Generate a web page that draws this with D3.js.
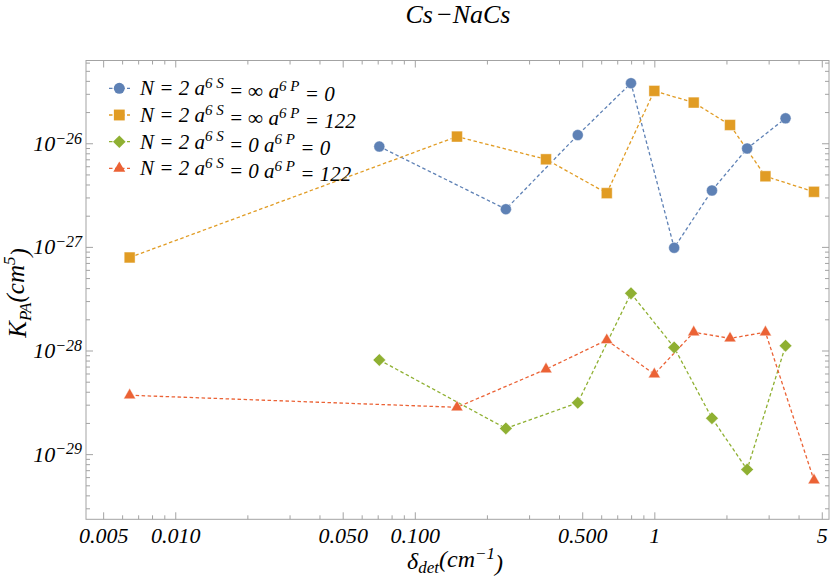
<!DOCTYPE html>
<html>
<head>
<meta charset="utf-8">
<script src="https://cdn.jsdelivr.net/npm/d3@7"></script>
<style>
  body { margin: 0; background: #fff; }
  text { font-family: "Liberation Serif", "DejaVu Serif", serif; font-style: italic; }
</style>
</head>
<body>
<div id="chart"></div>
<script>
// detuning values (cm^-1)
var xA = [0.0711, 0.240, 0.479, 0.799, 1.21, 1.74, 2.44, 3.53];
var xB = [0.00645, 0.150, 0.353, 0.633, 1.0, 1.46, 2.07, 2.91, 4.64];

// K_PA (cm^5)
var infNoP = [9.3e-27, 2.31e-27, 1.2e-26, 3.8e-26, 9.8e-28, 3.5e-27, 8.9e-27, 1.74e-26];
var infP122 = [7.9e-28, 1.16e-26, 7.0e-27, 3.3e-27, 3.2e-26, 2.47e-26, 1.5e-26, 4.8e-27, 3.4e-27];
var zeroNoP = [8.1e-29, 1.77e-29, 3.13e-29, 3.56e-28, 1.07e-28, 2.22e-29, 7.1e-30, 1.11e-28];
var zeroP122 = [3.7e-29, 2.83e-29, 6.6e-29, 1.26e-28, 5.9e-29, 1.5e-28, 1.31e-28, 1.5e-28, 5.6e-30];

var xTicks = [0.005, 0.01, 0.05, 0.1, 0.5, 1, 5];
var xTickLabels = ["0.005", "0.010", "0.050", "0.100", "0.500", "1", "5"];
var yTicks = [1e-26, 1e-27, 1e-28, 1e-29];

var series = [
    { rest: "= \u221E", p: "= 0", x: xA, y: infNoP, color: "#5E81B5", shape: "circle" },
    { rest: "= \u221E", p: "= 122", x: xB, y: infP122, color: "#E19C24", shape: "square" },
    { rest: "= 0", p: "= 0", x: xA, y: zeroNoP, color: "#8FB032", shape: "diamond" },
    { rest: "= 0", p: "= 122", x: xB, y: zeroP122, color: "#EB6235", shape: "triangle" }
];

var w = 830, h = 580;
var padL = 86, padR = 829, padT = 60.5, padB = 519.3;
var frameColor = "#a3a3a3";

var svg = d3.select("#chart").append("svg")
    .attr("width", w)
    .attr("height", h);

var xscale = d3.scaleLog().domain([0.00424, 5.36]).range([padL, padR]);
var yscale = d3.scaleLog().domain([2.35e-30, 6.29e-26]).range([padB, padT]);

// minor tick values
var xMinor = [];
[0.001, 0.01, 0.1, 1].forEach(function (b) {
    for (var k = 2; k <= 9; k++) {
        var v = b * k;
        if (v > 0.00424 && v < 5.36 && k !== 5) xMinor.push(v);
    }
});
var yMinor = [];
[1e-30, 1e-29, 1e-28, 1e-27, 1e-26].forEach(function (b) {
    for (var k = 2; k <= 9; k++) {
        var v = b * k;
        if (v > 2.35e-30 && v < 6.29e-26) yMinor.push(v);
    }
});

function styleAxis(g) {
    g.select(".domain").remove();
    g.selectAll(".tick line").attr("stroke", frameColor);
}

// bottom
svg.append("g").attr("transform", "translate(0," + padB + ")")
    .call(d3.axisBottom(xscale).tickValues(xMinor).tickSize(-4).tickFormat(""))
    .call(styleAxis);
svg.append("g").attr("transform", "translate(0," + padB + ")")
    .call(d3.axisBottom(xscale).tickValues(xTicks).tickSize(-7).tickPadding(8)
        .tickFormat(function (d, i) { return xTickLabels[i]; }))
    .call(styleAxis)
    .selectAll("text").attr("font-size", "22px").attr("fill", "#000")
    .attr("font-family", "Liberation Serif").attr("font-style", "italic");
// top
svg.append("g").attr("transform", "translate(0," + padT + ")")
    .call(d3.axisTop(xscale).tickValues(xMinor).tickSize(-4).tickFormat(""))
    .call(styleAxis);
svg.append("g").attr("transform", "translate(0," + padT + ")")
    .call(d3.axisTop(xscale).tickValues(xTicks).tickSize(-7).tickFormat(""))
    .call(styleAxis);

// left
svg.append("g").attr("transform", "translate(" + padL + ",0)")
    .call(d3.axisLeft(yscale).tickValues(yMinor).tickSize(-4).tickFormat(""))
    .call(styleAxis);
var yg = svg.append("g").attr("transform", "translate(" + padL + ",0)")
    .call(d3.axisLeft(yscale).tickValues(yTicks).tickSize(-7).tickPadding(4).tickFormat(""))
    .call(styleAxis);
yg.selectAll(".tick text").each(function (d) {
    var t = d3.select(this);
    var e = Math.round(Math.log10(d));
    t.attr("font-size", "22px").attr("fill", "#000")
        .attr("font-family", "Liberation Serif").attr("font-style", "italic");
    t.append("tspan").text("10");
    t.append("tspan").attr("dy", "-0.45em").attr("font-size", "16px").text("\u2212" + (-e));
});
// right
svg.append("g").attr("transform", "translate(" + padR + ",0)")
    .call(d3.axisRight(yscale).tickValues(yMinor).tickSize(-4).tickFormat(""))
    .call(styleAxis);
svg.append("g").attr("transform", "translate(" + padR + ",0)")
    .call(d3.axisRight(yscale).tickValues(yTicks).tickSize(-7).tickFormat(""))
    .call(styleAxis);

// frame
svg.append("rect")
    .attr("x", padL).attr("y", padT)
    .attr("width", padR - padL).attr("height", padB - padT)
    .attr("fill", "none").attr("stroke", frameColor).attr("stroke-width", 1);

// symbols
function symbolPath(shape) {
    if (shape === "circle") return d3.symbol().type(d3.symbolCircle).size(95)();
    if (shape === "square") return d3.symbol().type(d3.symbolSquare).size(118)();
    if (shape === "diamond") return "M0,-6.3L6.3,0L0,6.3L-6.3,0Z";
    return d3.symbol().type(d3.symbolTriangle).size(62)();
}

var line = d3.line()
    .x(function (d) { return xscale(d[0]); })
    .y(function (d) { return yscale(d[1]); });

series.forEach(function (s) {
    var pts = s.x.map(function (xv, i) { return [xv, s.y[i]]; });
    svg.append("path")
        .attr("d", line(pts))
        .attr("fill", "none")
        .attr("stroke", s.color)
        .attr("stroke-width", 1.3)
        .attr("stroke-dasharray", "3.5,2.5");
});
series.forEach(function (s) {
    var pts = s.x.map(function (xv, i) { return [xv, s.y[i]]; });
    svg.append("g").selectAll("path")
        .data(pts)
        .enter().append("path")
        .attr("d", symbolPath(s.shape))
        .attr("transform", function (d) { return "translate(" + xscale(d[0]) + "," + yscale(d[1]) + ")"; })
        .attr("fill", s.color)
        .attr("stroke", "#fff")
        .attr("stroke-opacity", 0.5)
        .attr("stroke-width", 0.8);
});

// legend
var legend = svg.append("g");
series.forEach(function (s, i) {
    var ly = 88.3 + i * 26.7;
    legend.append("line")
        .attr("x1", 109).attr("x2", 130).attr("y1", ly).attr("y2", ly)
        .attr("stroke", s.color).attr("stroke-width", 1.3).attr("stroke-dasharray", "3.5,2.5");
    legend.append("path")
        .attr("d", symbolPath(s.shape))
        .attr("transform", "translate(119.3," + ly + ")")
        .attr("fill", s.color);
    var t = legend.append("text")
        .attr("x", 140).attr("y", ly + 7)
        .attr("font-size", "21px").attr("fill", "#000");
    t.append("tspan").text("N = 2 a");
    t.append("tspan").attr("dy", "-0.5em").attr("font-size", "15px").text("6 S");
    t.append("tspan").attr("dy", "0.5em").text(" " + s.rest + " a");
    t.append("tspan").attr("dy", "-0.5em").attr("font-size", "15px").text("6 P");
    t.append("tspan").attr("dy", "0.5em").text(" " + s.p);
});

// title
svg.append("text")
    .attr("x", 458).attr("y", 23)
    .attr("text-anchor", "middle")
    .attr("font-size", "26px")
    .text("Cs\u200A\u2212NaCs");

// x label
var xl = svg.append("text")
    .attr("x", 455).attr("y", 569)
    .attr("text-anchor", "middle")
    .attr("font-size", "24px");
xl.append("tspan").text("\u03B4");
xl.append("tspan").attr("dy", "0.25em").attr("font-size", "17px").text("det");
xl.append("tspan").attr("dy", "-0.25em").text("(cm");
xl.append("tspan").attr("dy", "-0.5em").attr("font-size", "17px").text("\u22121");
xl.append("tspan").attr("dy", "0.5em").text(")");

// y label
var yl = svg.append("text")
    .attr("transform", "translate(26,293) rotate(-90)")
    .attr("text-anchor", "middle")
    .attr("font-size", "25px");
yl.append("tspan").text("K");
yl.append("tspan").attr("dy", "0.3em").attr("font-size", "17px").text("PA");
yl.append("tspan").attr("dy", "-0.3em").text("(cm");
yl.append("tspan").attr("dy", "-0.5em").attr("font-size", "17px").text("5");
yl.append("tspan").attr("dy", "0.5em").text(")");
</script>
</body>
</html>
